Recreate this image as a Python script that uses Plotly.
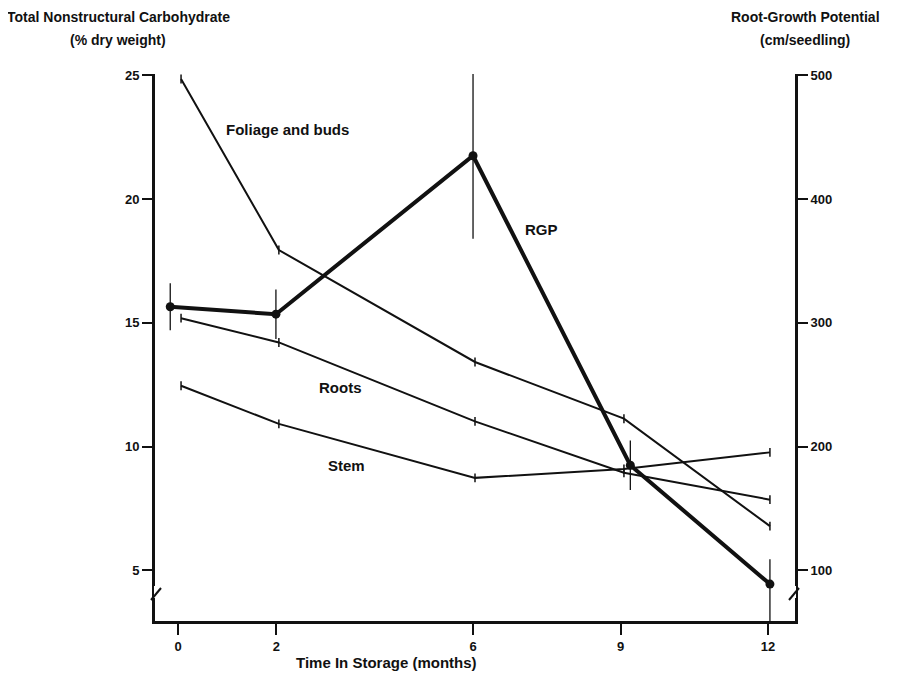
import plotly.graph_objects as go

# ---- data ----
month_ticks = [0, 2, 6, 9, 12]
month_tick_labels = ["0", "2", "6", "9", "12"]

months_tnc = [0.06, 2.05, 6.04, 9.07, 12.04]
months_rgp = [-0.16, 1.99, 6.0, 9.2, 12.04]

foliage = [24.85, 17.94, 13.42, 11.13, 6.79]
roots = [15.19, 14.21, 11.02, 8.95, 7.86]
stem = [12.46, 10.92, 8.74, 9.10, 9.77]
tnc_err = [0.18, 0.18, 0.18, 0.18, 0.18]

rgp = [313, 307, 435, 185, 89]
rgp_err_plus = [19, 20, 67, 20, 20]
rgp_err_minus = [19, 20, 67, 20, 30]

left_ticks = [5, 10, 15, 20, 25]
right_ticks = [100, 200, 300, 400, 500]

FONT = "Liberation Sans, Arial, Helvetica, sans-serif"
BLACK = "#111111"

# page body has an 8px margin: plot area on screen should be x 155..795, y 74..621
OFF = 8
PL, PR, PT, PB = 155, 795, 74, 621
FIG_W, FIG_H = 899, 676

fig = go.Figure()

def tnc_trace(y, name):
    return go.Scatter(
        x=months_tnc, y=y, name=name, mode="lines",
        line=dict(color=BLACK, width=2),
        error_y=dict(type="data", array=tnc_err, visible=True,
                     color=BLACK, thickness=1.5, width=0),
        showlegend=False, yaxis="y",
    )

fig.add_trace(tnc_trace(foliage, "Foliage and buds"))
fig.add_trace(tnc_trace(roots, "Roots"))
fig.add_trace(tnc_trace(stem, "Stem"))

fig.add_trace(go.Scatter(
    x=months_rgp, y=rgp, name="RGP", mode="lines+markers",
    line=dict(color=BLACK, width=4),
    marker=dict(color=BLACK, size=9),
    error_y=dict(type="data", array=rgp_err_plus, arrayminus=rgp_err_minus,
                 symmetric=False, visible=True, color=BLACK, thickness=1.3, width=0),
    showlegend=False, yaxis="y2",
))

y_lo, y_hi = 2.96, 25.05

axis_common = dict(
    showline=True, linecolor=BLACK, linewidth=2.8, mirror=False,
    ticks="outside", ticklen=10, tickwidth=1.5, tickcolor=BLACK,
    showgrid=False, zeroline=False,
    tickfont=dict(family=FONT, size=13, color=BLACK, weight="bold"),
)

fig.update_layout(
    width=FIG_W, height=FIG_H,
    margin=dict(l=PL - OFF, r=FIG_W + OFF - PR, t=PT - OFF, b=FIG_H + OFF - PB),
    paper_bgcolor="white", plot_bgcolor="white",
    font=dict(family=FONT, color=BLACK),
    xaxis=dict(range=[-0.47, 12.55], tickvals=month_ticks, ticktext=month_tick_labels,
               **{**axis_common, "ticklen": 11}),
    yaxis=dict(range=[y_lo, y_hi], tickvals=left_ticks, **axis_common),
    yaxis2=dict(range=[y_lo * 20, y_hi * 20], tickvals=right_ticks, overlaying="y",
                side="right", **{**axis_common, "ticklen": 10}),
)

lab = dict(family=FONT, size=15, color=BLACK, weight="bold")
for x, y, t in [(2.23, 22.79, "Foliage and buds"), (7.40, 18.79, "RGP"),
                (3.31, 12.41, "Roots"), (3.42, 9.26, "Stem")]:
    fig.add_annotation(x=x, y=y, text=t, showarrow=False, font=lab,
                       xanchor="center", yanchor="middle")

def paper_y(py):
    return (PB - py) / (PB - PT)

def paper_x(px):
    return (px - PL) / (PR - PL)

tit = dict(family=FONT, size=14, color=BLACK, weight="bold")
for px, py, t in [(118, 17, "Total Nonstructural Carbohydrate"),
                  (118, 40, "(% dry weight)"),
                  (805, 17, "Root-Growth Potential"),
                  (805, 40, "(cm/seedling)")]:
    fig.add_annotation(xref="paper", yref="paper", x=paper_x(px), y=paper_y(py),
                       text=t, showarrow=False, font=tit,
                       xanchor="center", yanchor="middle")

fig.add_annotation(xref="paper", yref="paper", x=paper_x(386), y=paper_y(662),
                   text="Time In Storage (months)", showarrow=False,
                   xanchor="center", yanchor="middle",
                   font=dict(family=FONT, size=15, color=BLACK, weight="bold"))

# axis break marks
for px in (156, 794):
    fig.add_shape(type="line", xref="paper", yref="paper",
                  x0=paper_x(px), x1=paper_x(px), y0=paper_y(586), y1=paper_y(598),
                  line=dict(color="white", width=4))
    fig.add_shape(type="line", xref="paper", yref="paper",
                  x0=paper_x(px - 5), x1=paper_x(px + 5), y0=paper_y(600), y1=paper_y(588),
                  line=dict(color=BLACK, width=2))

fig.write_html("out.html")
